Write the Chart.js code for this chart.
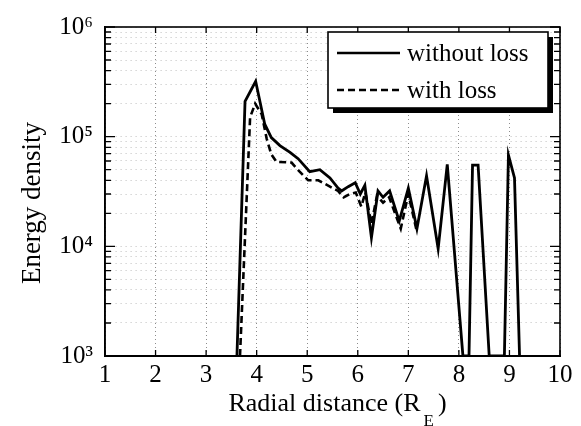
<!DOCTYPE html>
<html><head><meta charset="utf-8">
<script src="https://cdn.jsdelivr.net/npm/chart.js@4"></script>
<style>html,body{margin:0;padding:0;background:#fff}#wrap{width:581px;height:426px}canvas{display:block}</style>
</head><body>
<div id="wrap"><canvas id="c" width="581" height="426"></canvas></div>
<script>
// ---- data ----
const xTickLabels = ['1','2','3','4','5','6','7','8','9','10'];
const yDecades = [1e3, 1e4, 1e5, 1e6];
const yTickLabels = ['10\u00B3','10\u2074','10\u2075','10\u2076'];
const seriesNames = ['without loss', 'with loss'];
const xAxisTitle = 'Radial distance (R';
const xAxisSub = 'E';
const xAxisClose = ')';
const yAxisTitle = 'Energy density';

const xWithout = [3.61, 3.77, 3.98, 4.16, 4.29, 4.46, 4.66, 4.82, 5.05, 5.25, 5.45, 5.61, 5.68, 5.81, 5.95, 6.05, 6.14, 6.27, 6.40, 6.50, 6.63, 6.82, 7.00, 7.17, 7.36, 7.59, 7.77, 8.08, 8.20, 8.27, 8.38, 8.60, 8.90, 8.98, 9.10, 9.20];
const yWithout = [1000, 2.1e5, 3.2e5, 1.3e5, 9.8e4, 8.3e4, 7.2e4, 6.3e4, 4.8e4, 5.0e4, 4.2e4, 3.4e4, 3.2e4, 3.5e4, 3.8e4, 3.0e4, 3.6e4, 1.2e4, 3.2e4, 2.8e4, 3.2e4, 1.7e4, 3.4e4, 1.45e4, 4.4e4, 9.5e3, 5.6e4, 1000, 1000, 5.5e4, 5.5e4, 1000, 1000, 6.8e4, 4.2e4, 1000];

const xWith = [3.67, 3.87, 3.97, 4.10, 4.20, 4.29, 4.39, 4.69, 4.85, 5.02, 5.22, 5.45, 5.61, 5.72, 5.84, 5.96, 6.07, 6.15, 6.27, 6.38, 6.50, 6.62, 6.85, 7.00, 7.17];
const yWith = [1000, 1.5e5, 2.0e5, 1.6e5, 9.5e4, 6.9e4, 5.9e4, 5.8e4, 4.8e4, 4.0e4, 4.0e4, 3.5e4, 3.2e4, 2.8e4, 3.0e4, 3.1e4, 2.3e4, 3.1e4, 1.6e4, 2.9e4, 2.5e4, 2.8e4, 1.45e4, 3.0e4, 1.35e4];

// ---- build ----
const toPts = (xs, ys) => xs.map((x, i) => ({x: x, y: ys[i]}));
const yGridValues = [];
for (let d = 0; d < yDecades.length - 1; d++) {
  for (let m = 1; m <= 9; m++) yGridValues.push(m * yDecades[d]);
}
yGridValues.push(yDecades[yDecades.length - 1]);

const SERIF = "'Liberation Serif', 'DejaVu Serif', serif";
const isDecade = v => yDecades.some(d => Math.abs(v - d) / d < 1e-9);

const decorPlugin = {
  id: 'decor',
  afterDraw(chart) {
    const ctx = chart.ctx;
    const a = chart.chartArea;
    const xs = chart.scales.x, ys = chart.scales.y;
    ctx.save();
    // frame
    ctx.strokeStyle = '#000';
    ctx.lineWidth = 1.6;
    ctx.strokeRect(a.left, a.top, a.right - a.left, a.bottom - a.top);
    // inner ticks on y (left & right)
    ctx.lineWidth = 1.3;
    ctx.beginPath();
    yGridValues.forEach(v => {
      const py = ys.getPixelForValue(v);
      const len = isDecade(v) ? 10 : 6;
      ctx.moveTo(a.left, py); ctx.lineTo(a.left + len, py);
      ctx.moveTo(a.right, py); ctx.lineTo(a.right - len, py);
    });
    // inner ticks on x (bottom & top)
    xTickLabels.forEach((t, i) => {
      const px = xs.getPixelForValue(i + 1);
      ctx.moveTo(px, a.bottom); ctx.lineTo(px, a.bottom - 6);
      ctx.moveTo(px, a.top); ctx.lineTo(px, a.top + 6);
    });
    ctx.stroke();

    // legend
    const bx = 328, by = 32, bw = 220, bh = 76;
    ctx.fillStyle = '#000';
    ctx.fillRect(bx + 5, by + 5, bw, bh);
    ctx.fillStyle = '#fff';
    ctx.fillRect(bx, by, bw, bh);
    ctx.lineWidth = 1.6;
    ctx.strokeStyle = '#000';
    ctx.strokeRect(bx, by, bw, bh);
    const rows = [53, 90];
    chart.data.datasets.forEach((ds, i) => {
      ctx.save();
      ctx.lineWidth = 2.6;
      ctx.setLineDash(ds.borderDash || []);
      ctx.beginPath();
      ctx.moveTo(337, rows[i]); ctx.lineTo(400, rows[i]);
      ctx.stroke();
      ctx.restore();
      ctx.fillStyle = '#000';
      ctx.font = '25px ' + SERIF;
      ctx.textAlign = 'left';
      ctx.textBaseline = 'alphabetic';
      ctx.fillText(ds.label, 407, rows[i] + 8);
    });

    // x axis title with subscript
    ctx.fillStyle = '#000';
    ctx.textBaseline = 'alphabetic';
    ctx.textAlign = 'left';
    ctx.font = '26px ' + SERIF;
    const w1 = ctx.measureText(xAxisTitle).width;
    ctx.font = '17px ' + SERIF;
    const wE = ctx.measureText(xAxisSub).width;
    ctx.font = '26px ' + SERIF;
    const wC = ctx.measureText(xAxisClose).width;
    const total = w1 + 3 + wE + 4 + wC;
    let x0 = (a.left + a.right) / 2 + 5 - total / 2;
    ctx.fillText(xAxisTitle, x0, 411);
    ctx.font = '17px ' + SERIF;
    ctx.fillText(xAxisSub, x0 + w1 + 3, 426);
    ctx.font = '26px ' + SERIF;
    ctx.fillText(xAxisClose, x0 + w1 + 3 + wE + 4, 411);

    // y axis title
    ctx.save();
    ctx.translate(40, 203);
    ctx.rotate(-Math.PI / 2);
    ctx.textAlign = 'center';
    ctx.font = '27px ' + SERIF;
    ctx.fillText(yAxisTitle, 0, 0);
    ctx.restore();
    ctx.restore();
  }
};

new Chart(document.getElementById('c'), {
  type: 'line',
  data: {
    datasets: [
      { label: seriesNames[0], data: toPts(xWithout, yWithout), borderColor: '#000', borderWidth: 2.8, pointRadius: 0, tension: 0, fill: false },
      { label: seriesNames[1], data: toPts(xWith, yWith), borderColor: '#000', borderWidth: 2.6, borderDash: [7, 4], pointRadius: 0, tension: 0, fill: false }
    ]
  },
  options: {
    responsive: false,
    animation: false,
    devicePixelRatio: 1,
    layout: { padding: { top: 20, right: 21, left: 0, bottom: 0 } },
    plugins: { legend: { display: false }, tooltip: { enabled: false }, title: { display: false } },
    scales: {
      x: {
        type: 'linear', min: 1, max: 10,
        ticks: { stepSize: 1, color: '#000', font: { family: SERIF, size: 25 }, padding: 4, maxRotation: 0,
          callback: v => xTickLabels[Math.round(v) - 1] },
        grid: { color: 'rgba(0,0,0,0.45)', lineWidth: 1, drawTicks: false },
        border: { color: '#000', width: 2, dash: [1, 3] },
        afterFit: s => { s.height = 70; }
      },
      y: {
        type: 'logarithmic', min: 1000, max: 1e6,
        afterBuildTicks: s => { s.ticks = yGridValues.map(v => ({ value: v })); },
        ticks: { autoSkip: false, color: '#000', font: { family: SERIF, size: 25 }, padding: 12,
          callback: v => { const i = yDecades.findIndex(d => Math.abs(v - d) / d < 1e-9); return i >= 0 ? yTickLabels[i] : ''; } },
        grid: { color: 'rgba(0,0,0,0.25)', lineWidth: 1, drawTicks: false },
        border: { color: '#000', width: 1.6, dash: [1, 4] },
        afterFit: s => { s.width = 105; }
      }
    }
  },
  plugins: [decorPlugin]
});
</script>
</body></html>
